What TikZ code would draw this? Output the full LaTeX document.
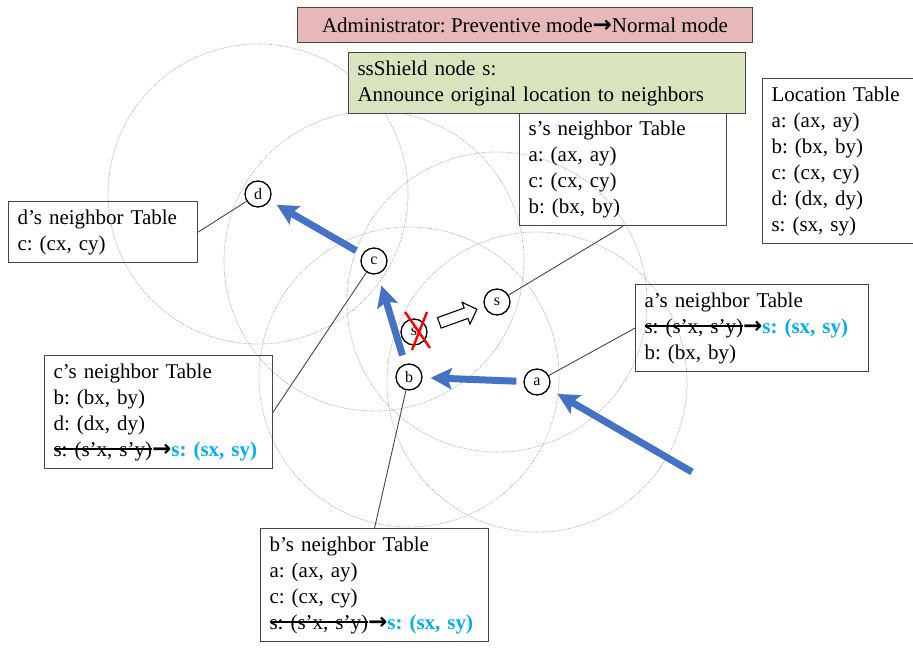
\documentclass[tikz,border=0pt]{standalone}
\usepackage{fontspec}
\setmainfont{Liberation Serif}
\newfontfamily\arrowfont{DejaVu Sans}
\usetikzlibrary{arrows.meta,shapes.arrows}
\definecolor{mypink}{RGB}{230,184,183}
\definecolor{mygreen}{RGB}{215,228,189}
\definecolor{myblue}{RGB}{68,114,196}
\definecolor{mycyan}{RGB}{0,176,240}
\definecolor{myrange}{RGB}{175,175,175}
\definecolor{myborder}{RGB}{70,70,70}
\frenchspacing
\newcommand{\tablefont}{\fontsize{21}{26}\selectfont}
\newcommand{\toarrow}{{\arrowfont\bfseries\fontsize{23}{23}\selectfont →}}
\newsavebox{\strikebox}
\newcommand{\strikeout}[1]{\sbox{\strikebox}{#1}\rlap{\usebox{\strikebox}}\rule[0.3em]{\wd\strikebox}{0.07em}}
\newcommand{\oldloc}{\mbox{\strikeout{s: (s’x, s’y)}\toarrow\textcolor{mycyan}{\textbf{s: (sx, sy)}}}}

\begin{document}
\begin{tikzpicture}[x=1pt,y=-1pt,
    sensor/.style={circle, draw, line width=1.3pt, fill=white, minimum size=26pt, inner sep=0pt, font=\fontsize{16}{16}\selectfont},
    radiorange/.style={draw=myrange, densely dotted, line width=0.8pt},
    move/.style={draw=myblue, line width=7pt, -{Stealth[length=21pt,width=21pt,inset=4pt]}, shorten <=7pt, shorten >=8pt},
    tablebox/.style={draw=myborder, line width=1.1pt, anchor=north west, align=left, inner xsep=9pt, inner ysep=8pt, font=\tablefont},
    link/.style={draw=myborder, line width=0.9pt},
    hollow/.style={single arrow, draw, line width=1.1pt, fill=white, inner xsep=0pt, inner ysep=5pt, minimum height=40pt, single arrow head extend=6pt, single arrow head indent=0pt},
    crossout/.style={draw=red, line width=2.4pt}
]
\useasboundingbox (0,0) rectangle (913,650);

% Sensor positions
\coordinate (pd) at (258,194);
\coordinate (pc) at (374,261);
\coordinate (psnew) at (497,302);
\coordinate (pb) at (409,377);
\coordinate (pa) at (537,382);

% Radio ranges
\foreach \p in {pd,pc,psnew,pb,pa}
    \draw[radiorange] (\p) circle (150);

% Neighbor tables
\node[tablebox, text width=171pt] (dtab) at (8,201) {d’s neighbor Table\\c: (cx, cy)};
\node[tablebox, text width=210pt] (ctab) at (44,355) {c’s neighbor Table\\b: (bx, by)\\d: (dx, dy)\\\oldloc};
\node[tablebox, text width=210pt] (btab) at (260,528) {b’s neighbor Table\\a: (ax, ay)\\c: (cx, cy)\\\oldloc};
\node[tablebox, text width=215pt] (atab) at (635,284) {a’s neighbor Table\\\oldloc\\b: (bx, by)};
\node[tablebox, text width=189pt] (stab) at (519,112) {s’s neighbor Table\\a: (ax, ay)\\c: (cx, cy)\\b: (bx, by)};
\node[tablebox, text width=150pt, fill=white] (loctab) at (762,78) {Location Table\\a: (ax, ay)\\b: (bx, by)\\c: (cx, cy)\\d: (dx, dy)\\s: (sx, sy)};

% Mode boxes
\node[draw=myborder, line width=1.1pt, fill=mypink, anchor=north west, minimum width=455pt, minimum height=35pt, font=\tablefont] (admin) at (297,7) {Administrator: Preventive mode\toarrow Normal mode};
\node[tablebox, fill=mygreen, text width=379pt] (shield) at (348,52) {ssShield node s:\\Announce original location to neighbors};

% Sensors
\node[sensor] (d) at (pd) {d};
\node[sensor] (c) at (pc) {c};
\node[sensor] (sold) at (414,332) {s};
\node[sensor] (snew) at (psnew) {s};
\node[sensor] (b) at (pb) {b};
\node[sensor] (a) at (pa) {a};
\coordinate (entry) at (692,472);

% Links to tables
\draw[link] (dtab.east) -- (d);
\draw[link] (ctab.east) -- (c);
\draw[link] (btab.north) -- (b);
\draw[link] (atab.west) -- (a);
\draw[link] (stab.south) -- (snew);

% Movement
\draw[move, shorten <=0pt, shorten >=10pt] (entry) -- (a);
\draw[move] (a) -- (b);
\draw[move, shorten <=9pt, shorten >=12pt] (b) -- (c);
\draw[move] (c) -- (d);
\path (sold) -- node[hollow, sloped] {} (snew);

% Old position crossed out
\draw[crossout] ([shift={(-9,-20)}]sold.center) -- ([shift={(16,16)}]sold.center);
\draw[crossout] ([shift={(13,-20)}]sold.center) -- ([shift={(-2,18)}]sold.center);
\end{tikzpicture}
\end{document}
